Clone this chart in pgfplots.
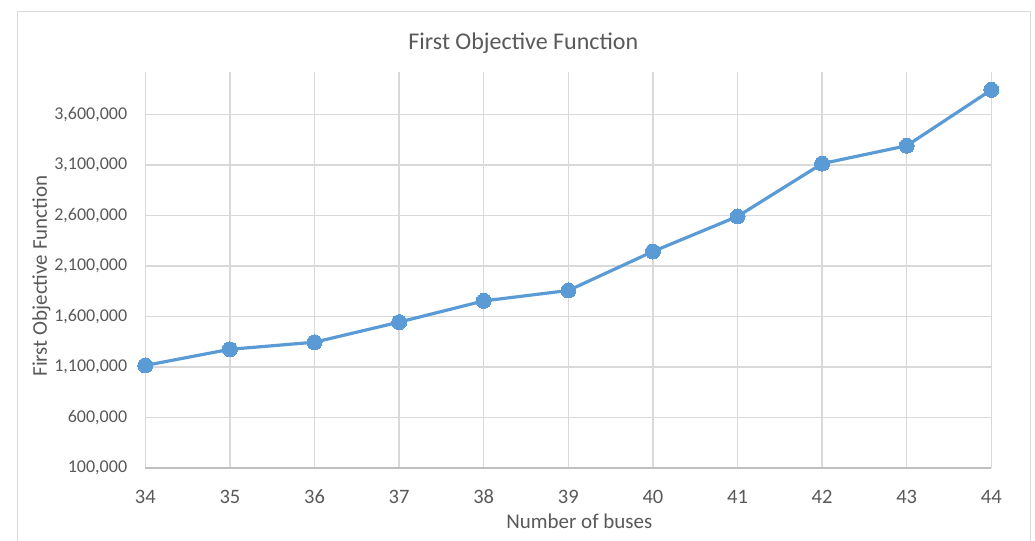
\documentclass[border=0pt]{standalone}
\usepackage{fontspec}
\setmainfont{Carlito}
\usepackage{pgfplots}
\pgfplotsset{compat=1.18}
\definecolor{linec}{HTML}{5B9BD5}
\definecolor{gridc}{HTML}{D9D9D9}
\definecolor{axc}{HTML}{BFBFBF}
\definecolor{txt}{HTML}{595959}
\begin{document}
\begin{tikzpicture}[x=1bp,y=1bp]
\path[use as bounding box] (0,0) rectangle (1035,541);
\draw[gridc, line width=1bp] (17,-5) rectangle (1030,529);
\begin{axis}[
  at={(145.3bp,73bp)}, anchor=south west,
  scale only axis, width=846bp, height=396bp,
  xmin=34, xmax=44, ymin=100000, ymax=4020000,
  xtick={34,...,44},
  ytick={100000,600000,1100000,1600000,2100000,2600000,3100000,3600000},
  axis line style={draw=none},
  major tick length=0pt,
  grid=major,
  major grid style={gridc, line width=1.4bp},
  /pgf/number format/assume math mode=true,
  /pgf/number format/.cd, fixed, 1000 sep={,}, precision=0,
  /pgfplots/.cd,
  scaled y ticks=false,
  tick label style={font=\fontsize{18bp}{20bp}\selectfont, text=txt, inner sep=0pt},
  xticklabel style={font=\fontsize{20.5bp}{23bp}\selectfont, anchor=center, yshift=-29bp},
  yticklabel style={anchor=east, xshift=-18bp},
  title={First Objective Function},
  title style={font=\fontsize{24bp}{28bp}\selectfont, text=txt, at={(axis description cs:0.4468,1.058)}, anchor=center, inner sep=0pt},
  xlabel={Number of buses},
  ylabel={First Objective Function},
  label style={font=\fontsize{21bp}{24bp}\selectfont, text=txt, inner sep=0pt},
  xlabel style={at={(axis description cs:0.513,-0.1338)}, anchor=center},
  ylabel style={at={(axis description cs:-0.1229,0.4848)}, anchor=center},
  clip=false,
]
\draw[axc, line width=1.4bp] (axis cs:34,100000) -- (axis cs:44,100000);
\addplot[linec, line width=3.2bp, mark=*, mark size=7.5bp, mark options={fill=linec, draw=linec, line width=0pt}]
coordinates {
(34,1115000)
(35,1275000)
(36,1345000)
(37,1544000)
(38,1754000)
(39,1857000)
(40,2243000)
(41,2590000)
(42,3113000)
(43,3290000)
(44,3843000)
};
\end{axis}
\end{tikzpicture}
\end{document}
